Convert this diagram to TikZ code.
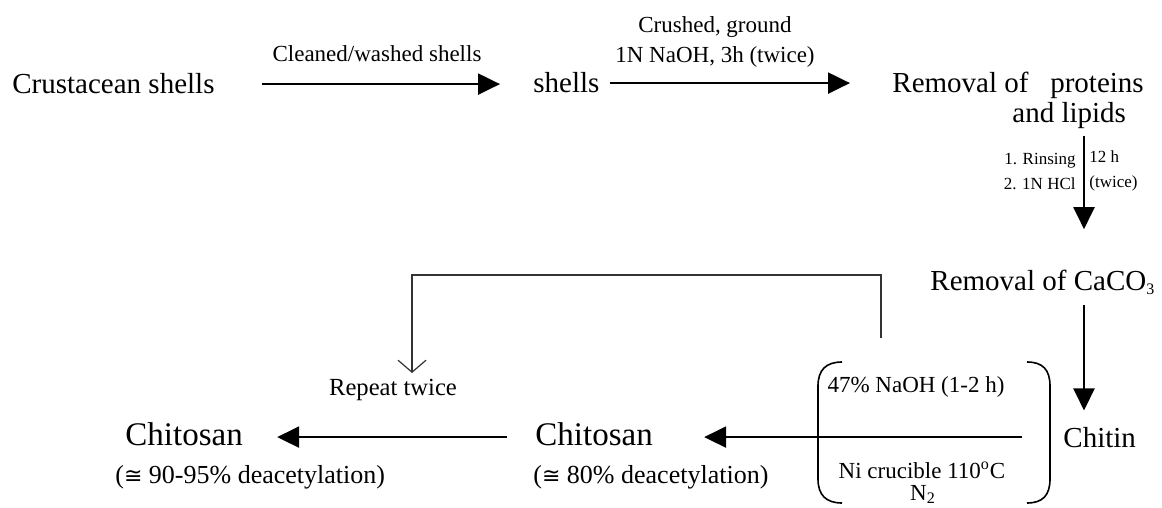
\documentclass[tikz,border=0pt]{standalone}
\usepackage{fontspec}
\setmainfont{Liberation Serif}
\newfontfamily\mathsym{DejaVu Sans}
\usetikzlibrary{arrows.meta}

\tikzset{
  stage/.style={inner sep=0pt, font=\fontsize{14.5}{17}\selectfont},
  product/.style={inner sep=0pt, font=\fontsize{16.5}{19}\selectfont},
  degree/.style={inner sep=0pt, font=\fontsize{13}{15}\selectfont},
  cond/.style={inner sep=0pt, font=\fontsize{11.5}{15}\selectfont},
  smallcond/.style={inner sep=0pt, font=\fontsize{8.5}{12.5}\selectfont},
  flow/.style={line width=1.1pt, -{Triangle[length=11pt,width=10.5pt]}},
  back/.style={line width=0.6pt, black!80, -{Straight Barb[length=6pt,width=14pt]}},
  brk/.style={line width=0.8pt},
}

\begin{document}
\begin{tikzpicture}[x=0.5pt,y=-0.5pt]
    \useasboundingbox (0,0) rectangle (1162,508);
    % stages
    \node[stage, anchor=base west] (crust) at (12,94) {Crustacean shells};
    \node[stage, anchor=base west] (shells) at (533,93) {shells};
    \node[stage, anchor=base west] (prot) at (892,93) {Removal of~~~proteins};
    \node[stage, anchor=base west] (lipids) at (1012,123) {and lipids};
    \node[stage, anchor=base west] (caco) at (930,290) {Removal of CaCO\textsubscript{\footnotesize 3}};
    \node[stage, anchor=base west] (chitin) at (1063,447) {Chitin};
    \node[product, anchor=base west] (chitoa) at (535,445) {Chitosan};
    \node[degree, anchor=base west] (deaca) at (533,483) {({\mathsym\fontsize{11}{13}\selectfont ≅} 80\% deacetylation)};
    \node[product, anchor=base west] (chitob) at (125,445) {Chitosan};
    \node[degree, anchor=base west] (deacb) at (115,483) {({\mathsym\fontsize{11}{13}\selectfont ≅} 90-95\% deacetylation)};
    \coordinate (down) at (1084,0);

    % conditions
    \node[cond, anchor=base] (clean) at (377,62) {Cleaned/washed shells};
    \node[cond, align=center] (crush) at (715,42) {Crushed, ground\\1N NaOH, 3h (twice)};
    \node[smallcond, align=right, anchor=east] (rinse) at (1076,171) {1. Rinsing\\2. 1N HCl};
    \node[smallcond, align=left, anchor=west] (hours) at (1089,171) {12 h\\(twice)};
    \node[cond, anchor=base] (naoh) at (916,392) {47\% NaOH (1-2 h)};
    \node[cond, anchor=base] (ni) at (922,478) {Ni crucible 110\textsuperscript{o}C};
    \node[cond, anchor=base] (ntwo) at (923,500) {N\textsubscript{2}};
    \node[cond, font=\fontsize{12.3}{15}\selectfont, anchor=base] (rep) at (393,395) {Repeat twice};

    % arrows
    \draw[flow, shorten <=23.5pt, shorten >=16.5pt] (crust.east) -- (crust.east -| shells.west);
    \draw[flow, shorten <=5pt, shorten >=21pt] (shells.east) -- (shells.east -| prot.west);
    \draw[flow, shorten <=3pt, shorten >=20pt] (lipids.south -| down) -- (caco.north -| down);
    \draw[flow, shorten <=5pt, shorten >=8pt] (caco.south -| down) -- (chitin.north -| down);
    \draw[flow, shorten <=20.5pt, shorten >=25.5pt] (chitin.west) -- (chitin.west -| chitoa.east);
    \draw[flow, shorten <=14pt, shorten >=17pt] (chitin.west -| chitoa.west) -- (chitin.west -| chitob.east);

    % repeat loop
    \coordinate (fbstart) at (881,338);
    \coordinate (fbend) at (412,373);
    \draw[back] (fbstart) -- (881,275) -| (fbend);

    % brackets
    \draw[brk] (842,362) .. controls (826,362) and (818,370) .. (818,386) -- (818,479) .. controls (818,495) and (826,503) .. (842,503);
    \draw[brk] (1027,362) .. controls (1043,362) and (1050,370) .. (1050,386) -- (1050,479) .. controls (1050,495) and (1043,503) .. (1027,503);
\end{tikzpicture}
\end{document}
